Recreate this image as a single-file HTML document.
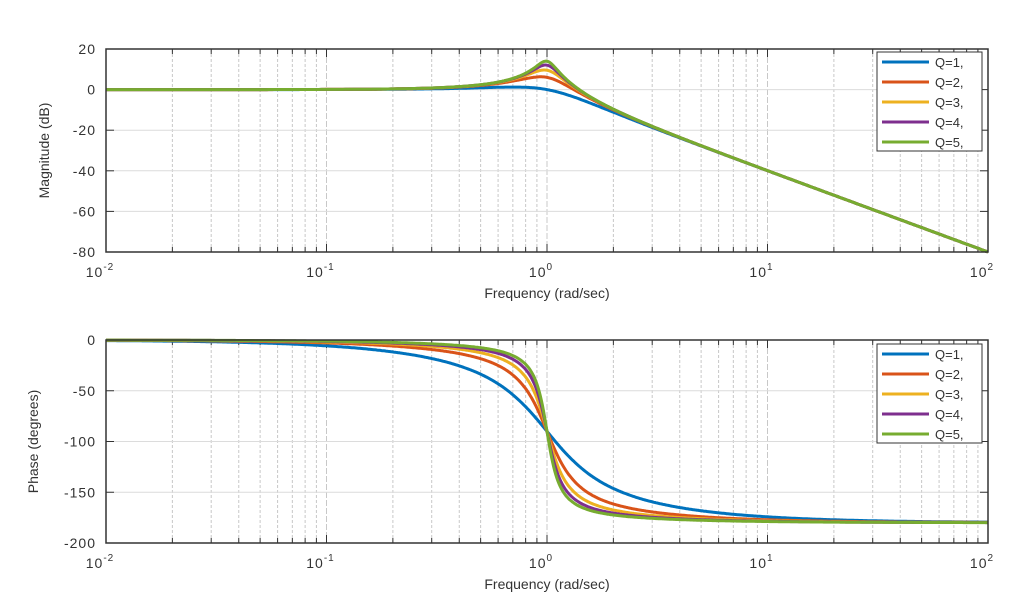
<!DOCTYPE html>
<html><head><meta charset="utf-8"><style>
html,body{margin:0;padding:0;background:#fff;}
svg{display:block;font-family:"Liberation Sans",sans-serif;}
</style></head><body>
<svg id="s" width="1024" height="614" xmlns="http://www.w3.org/2000/svg"></svg>
<script>
const S=document.getElementById('s');
const L=106,R=988,W=R-L;
const cols=['#0072BD','#D95319','#EDB120','#7E2F8E','#77AC30'];
let h='';
function xp(w){return L+(Math.log10(w)+2)/4*W;}
function panel(T,B,ymin,ymax,step,ylab,labx){
  const yp=v=>T+(ymax-v)/(ymax-ymin)*(B-T);
  // grid
  for(let d=-2;d<2;d++)for(let k=1;k<10;k++){const x=xp(k*Math.pow(10,d));
    if(k==1&&d==-2)continue;
    h+=`<line x1="${x}" y1="${T}" x2="${x}" y2="${B}" stroke="#c8c8c8" stroke-width="1" stroke-dasharray="${k==1?'6,2':'3,2'}"/>`;
    h+=`<line x1="${x}" y1="${T}" x2="${x}" y2="${T+(k==1?8:5)}" stroke="#333"/><line x1="${x}" y1="${B}" x2="${x}" y2="${B-(k==1?8:5)}" stroke="#333"/>`;}
  for(let v=ymin;v<=ymax;v+=step){const y=yp(v);
    if(v>ymin&&v<ymax)h+=`<line x1="${L}" y1="${y}" x2="${R}" y2="${y}" stroke="#dcdcdc"/>`;
    h+=`<line x1="${L}" y1="${y}" x2="${L+8}" y2="${y}" stroke="#333"/><line x1="${R}" y1="${y}" x2="${R-8}" y2="${y}" stroke="#333"/>`;
    h+=`<text x="${L-10}" y="${y+5}" font-size="14" text-anchor="end" fill="#333" letter-spacing="1">${v}</text>`;}
  for(let d=-2;d<=2;d++){const x=xp(Math.pow(10,d));
    h+=`<text x="${x-6}" y="${B+25}" font-size="14" text-anchor="middle" fill="#333" letter-spacing="1">10<tspan dy="-7" font-size="10">${d}</tspan></text>`;}
  h+=`<text x="547" y="${B+46}" font-size="14" text-anchor="middle" fill="#333">Frequency (rad/sec)</text>`;
  h+=`<text transform="translate(${labx},${(T+B)/2}) rotate(-90)" font-size="14" text-anchor="middle" fill="#333">${ylab}</text>`;
  return yp;
}
function curves(yp,f){
  for(let q=1;q<=5;q++){let p='';
    for(let i=0;i<=800;i++){const w=Math.pow(10,-2+4*i/800);const re=1-w*w,im=w/q;
      const v=f(re,im);p+=(i?'L':'M')+xp(w).toFixed(1)+','+yp(v).toFixed(1);}
    h+=`<path d="${p}" fill="none" stroke="${cols[q-1]}" stroke-width="3"/>`;}
}
function legend(T){
  h+=`<rect x="877" y="${T}" width="105" height="99" fill="#fff" stroke="#333"/>`;
  for(let q=1;q<=5;q++){const y=T+10+(q-1)*20;
    h+=`<line x1="882" y1="${y}" x2="929" y2="${y}" stroke="${cols[q-1]}" stroke-width="3"/>`;
    h+=`<text x="935" y="${y+5}" font-size="13" fill="#333">Q=${q},</text>`;}
}
function frame(T,B){h+=`<rect x="${L}" y="${T}" width="${W}" height="${B-T}" fill="none" stroke="#333" stroke-width="1.5"/>`;}
let y1=panel(49,252,-80,20,20,'Magnitude (dB)',49);
curves(y1,(re,im)=>-10*Math.log10(re*re+im*im));
frame(49,252);legend(52);
let y2=panel(340,543,-200,0,50,'Phase (degrees)',38);
curves(y2,(re,im)=>-Math.atan2(im,re)*180/Math.PI);
frame(340,543);legend(344);
S.innerHTML=h;
</script>
</body></html>
